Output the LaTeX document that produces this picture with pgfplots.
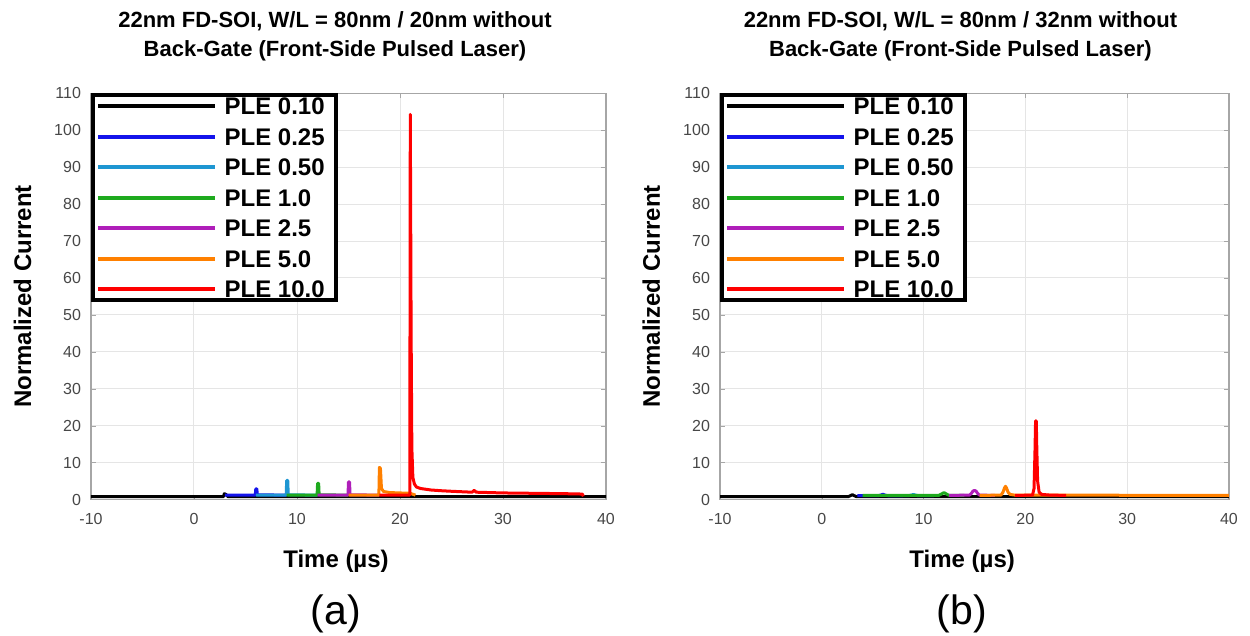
\documentclass[border=0pt]{standalone}
\usepackage{pgfplots}
\pgfplotsset{compat=1.18}
\usepackage{fontspec}
\setmainfont{Liberation Sans}
\definecolor{cBlack}{RGB}{0,0,0}
\definecolor{cBlue}{RGB}{20,20,235}
\definecolor{cCyan}{RGB}{30,150,210}
\definecolor{cGreen}{RGB}{30,170,30}
\definecolor{cPurple}{RGB}{175,30,185}
\definecolor{cOrange}{RGB}{255,128,0}
\definecolor{cRed}{RGB}{255,0,0}
\pgfplotsset{
 panel/.style={
  scale only axis, height=203.15pt,
  xmin=-10, xmax=40, ymin=0, ymax=110,
  xtick={-10,0,10,20,30,40}, ytick={0,10,...,110},
  grid=major, major grid style={draw=black!10, line width=0.5pt},
  axis line style={draw=black!35, line width=0.6pt},
  tick align=inside, major tick length=2.5pt, tick style={draw=black!35},
  ticklabel style={font=\fontsize{8}{9.6}\selectfont, text=black!72},
  xticklabel style={yshift=-3.5pt},
  yticklabel style={xshift=-1.5pt},
  /pgf/number format/assume math mode=true,
  title style={anchor=center, align=center, font=\bfseries\fontsize{11}{14.5}\selectfont},
  xlabel style={anchor=center, font=\bfseries\fontsize{12}{14}\selectfont},
  ylabel style={anchor=center, font=\bfseries\fontsize{12}{14}\selectfont},
  xlabel={Time (µs)}, ylabel={Normalized Current},
  legend cell align=left,
  legend style={at={(0,1)}, anchor=north west, draw=black, line width=2pt, fill=white,
    font=\bfseries\fontsize{12}{14}\selectfont,
    inner xsep=5.5pt, inner ysep=1pt, row sep=6.45pt,
    nodes={inner sep=0pt, text height=8.8pt, text depth=0pt},
    /tikz/every odd column/.append style={column sep=4pt}},
  legend image code/.code={\draw[#1, line width=2pt, overlay] (-3.7pt,0pt) -- (54.8pt,0pt);
     \path (0pt,0pt) -- (54.8pt,0pt);},
  every axis plot/.append style={line width=1.5pt, line join=round},
 }
}
\begin{document}
\begin{tikzpicture}
\path[use as bounding box] (0pt,0pt) rectangle (625pt,318pt);
% ---------------- panel (a) ----------------
\begin{axis}[panel, at={(45.5pt,68.2pt)}, anchor=south west, width=257.5pt,
  title={22nm FD-SOI, W/L = 80nm / 20nm without\\Back-Gate (Front-Side Pulsed Laser)},
  title style={at={(axis description cs:0.4738,1.111)}},
  xlabel style={at={(axis description cs:0.4757,-0.1525)}},
  ylabel style={at={(axis description cs:-0.133,0.5)}}]
\addplot[cBlack] coordinates {(-10,0.8) (2.85,0.8) (2.95,1.6) (3.1,1.4) (3.3,0.8) (40,0.8)};
\addlegendentry{PLE 0.10}
\addplot[cBlue] coordinates {(3,1.2) (5.95,1.2) (6.0,2.9) (6.1,2.9) (6.15,1.3) (9,1.2)};
\addlegendentry{PLE 0.25}
\addplot[cCyan] coordinates {(6,1.2) (8.95,1.2) (9.0,5.2) (9.1,5.2) (9.15,1.3) (12,1.2)};
\addlegendentry{PLE 0.50}
\addplot[cGreen] coordinates {(9,1.2) (11.95,1.2) (12.0,4.4) (12.1,4.4) (12.15,1.3) (15,1.2)};
\addlegendentry{PLE 1.0}
\addplot[cPurple] coordinates {(12,1.2) (14.95,1.2) (15.0,4.8) (15.1,4.8) (15.15,1.3) (18,1.2)};
\addlegendentry{PLE 2.5}
\addplot[cOrange] coordinates {(15,1.2) (17.95,1.2) (18.0,8.7) (18.1,8.5) (18.2,3.0) (18.4,2.2) (19,1.9) (20,1.8) (21,1.7) (21.5,1.2)};
\addlegendentry{PLE 5.0}
\addplot[cRed] coordinates {(18,1.2) (20.95,1.2) (21.0,104.3) (21.08,45) (21.15,14) (21.25,6) (21.4,4.2) (21.6,3.4) (22,3.0) (23,2.6) (24,2.4) (25,2.25) (27,2.0) (27.2,2.5) (27.4,2.0) (30,1.8) (33,1.7) (36,1.6) (37.7,1.5) (37.8,0.9)};
\addlegendentry{PLE 10.0}
\end{axis}
\node[font=\fontsize{20.5}{24}\selectfont] at (168pt,11pt) {(a)};
% ---------------- panel (b) ----------------
\begin{axis}[panel, at={(360pt,68.2pt)}, anchor=south west, width=254.5pt,
  title={22nm FD-SOI, W/L = 80nm / 32nm without\\Back-Gate (Front-Side Pulsed Laser)},
  title style={at={(axis description cs:0.4724,1.111)}},
  xlabel style={at={(axis description cs:0.4758,-0.1525)}},
  ylabel style={at={(axis description cs:-0.1348,0.5)}}]
\addplot[cBlack] coordinates {(-10,0.8) (2.6,0.8) (2.85,1.1) (3.0,1.35) (3.15,1.1) (3.4,0.8) (40,0.8)};
\addlegendentry{PLE 0.10}
\addplot[cBlue] coordinates {(3.5,1.1) (5.6,1.1) (5.85,1.25) (6.0,1.45) (6.15,1.25) (6.4,1.1) (8,1.1)};
\addlegendentry{PLE 0.25}
\addplot[cCyan] coordinates {(6.5,1.1) (8.6,1.1) (8.85,1.25) (9.0,1.4) (9.15,1.25) (9.4,1.1) (11,1.1)};
\addlegendentry{PLE 0.50}
\addplot[cGreen] coordinates {(4,1.15) (11.5,1.15) (11.75,1.5) (12.0,1.9) (12.25,1.5) (12.5,1.15) (14,1.15)};
\addlegendentry{PLE 1.0}
\addplot[cPurple] coordinates {(12.5,1.15) (14.5,1.2) (14.7,1.7) (14.85,2.3) (15.0,2.5) (15.15,2.3) (15.3,1.7) (15.5,1.2) (17,1.15)};
\addlegendentry{PLE 2.5}
\addplot[cOrange] coordinates {(15.5,1.15) (17.6,1.2) (17.8,2.0) (17.95,3.2) (18.05,3.6) (18.15,3.1) (18.3,2.0) (18.5,1.4) (19,1.2) (40,1.15)};
\addlegendentry{PLE 5.0}
\addplot[cRed] coordinates {(19,1.15) (20.7,1.2) (20.85,3) (20.95,14) (21.0,21.3) (21.07,21.3) (21.12,14) (21.2,5) (21.35,2) (21.6,1.4) (22.5,1.2) (24,1.15)};
\addlegendentry{PLE 10.0}
\end{axis}
\node[font=\fontsize{20.5}{24}\selectfont] at (480.85pt,11pt) {(b)};
\end{tikzpicture}
\end{document}
